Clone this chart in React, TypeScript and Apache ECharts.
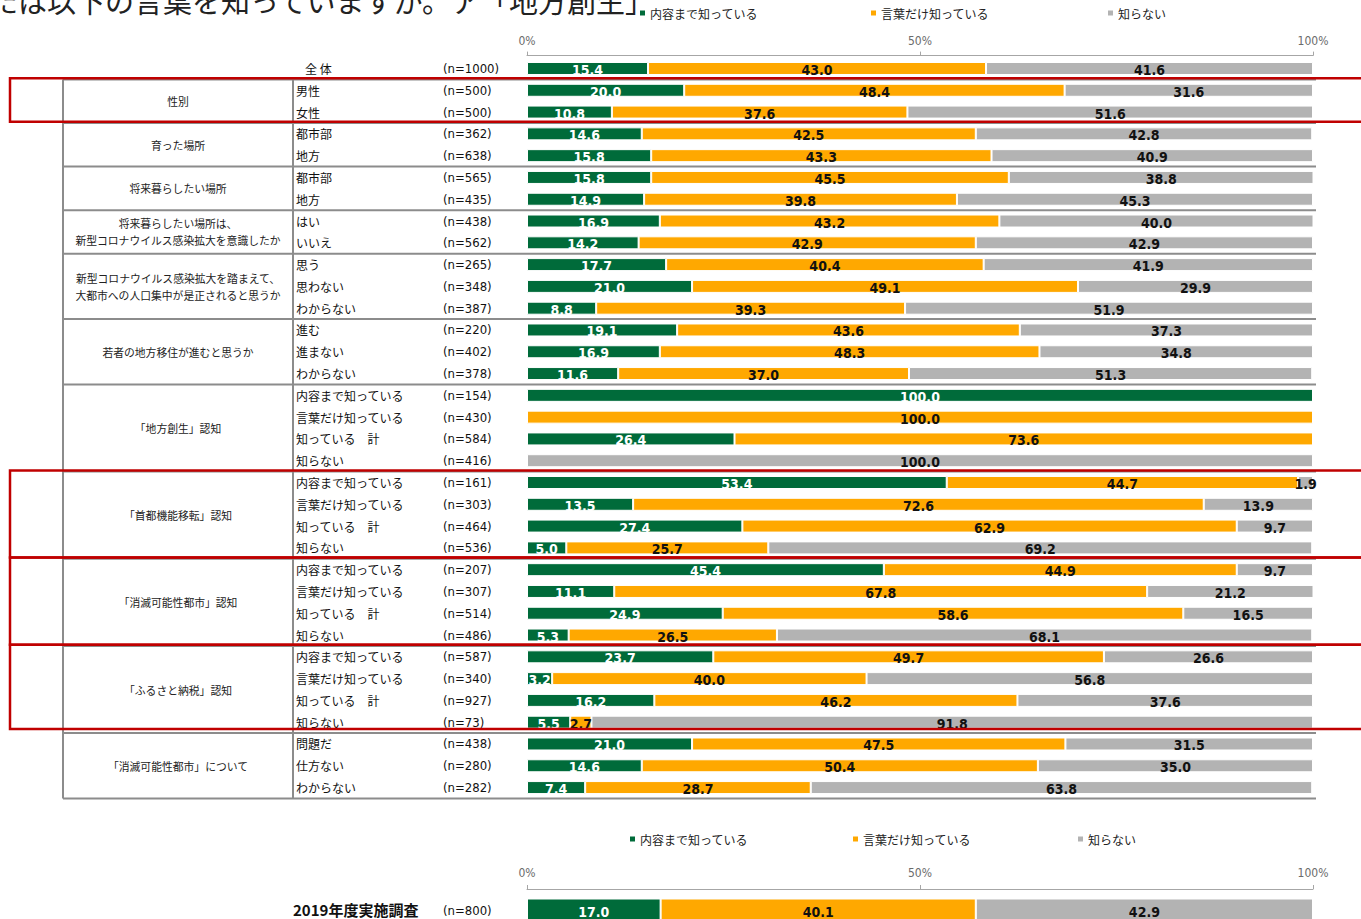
import React, { useEffect, useRef } from 'react';
import * as echarts from 'echarts';

const TITLE = 'あなたは以下の言葉を知っていますか。ア「地方創生」';
const SERIES_NAMES = ['内容まで知っている', '言葉だけ知っている', '知らない'];
const COLORS = ['#006B3A', '#FFA800', '#B3B3B3'];

const rowLabels = [
  '全 体',
  '男性', '女性',
  '都市部', '地方',
  '都市部', '地方',
  'はい', 'いいえ',
  '思う', '思わない', 'わからない',
  '進む', '進まない', 'わからない',
  '内容まで知っている', '言葉だけ知っている', '知っている　計', '知らない',
  '内容まで知っている', '言葉だけ知っている', '知っている　計', '知らない',
  '内容まで知っている', '言葉だけ知っている', '知っている　計', '知らない',
  '内容まで知っている', '言葉だけ知っている', '知っている　計', '知らない',
  '問題だ', '仕方ない', 'わからない',
];
const nLabels = [
  '(n=1000)',
  '(n=500)', '(n=500)',
  '(n=362)', '(n=638)',
  '(n=565)', '(n=435)',
  '(n=438)', '(n=562)',
  '(n=265)', '(n=348)', '(n=387)',
  '(n=220)', '(n=402)', '(n=378)',
  '(n=154)', '(n=430)', '(n=584)', '(n=416)',
  '(n=161)', '(n=303)', '(n=464)', '(n=536)',
  '(n=207)', '(n=307)', '(n=514)', '(n=486)',
  '(n=587)', '(n=340)', '(n=927)', '(n=73)',
  '(n=438)', '(n=280)', '(n=282)',
];
const groupLabels = [
  '性別', '育った場所', '将来暮らしたい場所',
  '将来暮らしたい場所は、\n新型コロナウイルス感染拡大を意識したか',
  '新型コロナウイルス感染拡大を踏まえて、\n大都市への人口集中が是正されると思うか',
  '若者の地方移住が進むと思うか', '「地方創生」認知', '「首都機能移転」認知',
  '「消滅可能性都市」認知', '「ふるさと納税」認知', '「消滅可能性都市」について',
];
const groupSizes = [2, 2, 2, 2, 3, 3, 4, 4, 4, 4, 3];
const highlightedGroups = [0, 7, 8, 9];

const knowContent = [
  15.4, 20.0, 10.8, 14.6, 15.8, 15.8, 14.9, 16.9, 14.2, 17.7, 21.0, 8.8, 19.1, 16.9, 11.6,
  100.0, 0, 26.4, 0, 53.4, 13.5, 27.4, 5.0, 45.4, 11.1, 24.9, 5.3, 23.7, 3.2, 16.2, 5.5,
  21.0, 14.6, 7.4,
];
const knowWord = [
  43.0, 48.4, 37.6, 42.5, 43.3, 45.5, 39.8, 43.2, 42.9, 40.4, 49.1, 39.3, 43.6, 48.3, 37.0,
  0, 100.0, 73.6, 0, 44.7, 72.6, 62.9, 25.7, 44.9, 67.8, 58.6, 26.5, 49.7, 40.0, 46.2, 2.7,
  47.5, 50.4, 28.7,
];
const notKnow = [
  41.6, 31.6, 51.6, 42.8, 40.9, 38.8, 45.3, 40.0, 42.9, 41.9, 29.9, 51.9, 37.3, 34.8, 51.3,
  0, 0, 0, 100.0, 1.9, 13.9, 9.7, 69.2, 9.7, 21.2, 16.5, 68.1, 26.6, 56.8, 37.6, 91.8,
  31.5, 35.0, 63.8,
];

const prevLabels = ['2019年度実施調査'];
const prevN = ['(n=800)'];
const prevKnowContent = [17.0];
const prevKnowWord = [40.1];
const prevNotKnow = [42.9];

const JP = '"Noto Sans CJK JP", "Noto Sans", sans-serif';
const NUM = '"DejaVu Sans Condensed", "Liberation Sans Narrow", "Liberation Sans", sans-serif';

export default function App() {
  const ref = useRef<HTMLDivElement>(null);
  useEffect(() => {
    if (!ref.current) return;
    const chart = echarts.init(ref.current, undefined, { renderer: 'svg' });

    const gridLeft = 527;
    const gridWidth = 786;
    const gridTop = 57.6;
    const band = 21.79;
    const rows = rowLabels.length;
    const y = (i: number) => gridTop + i * band;

    const graphics: any[] = [];
    graphics.push({
      type: 'text', x: 654, y: 0, z: 10,
      style: { text: TITLE, fontSize: 29, fontFamily: JP, fill: '#222', align: 'right', verticalAlign: 'middle' },
    });
    // table structure
    const lineStyle = { stroke: '#8c8c8c', lineWidth: 2 };
    let start = 1;
    const bounds: number[] = [1];
    groupSizes.forEach((s) => { start += s; bounds.push(start); });
    graphics.push({ type: 'line', z: 5, shape: { x1: 63, y1: y(1), x2: 63, y2: y(rows) }, style: lineStyle });
    graphics.push({ type: 'line', z: 5, shape: { x1: 293, y1: y(1), x2: 293, y2: y(rows) }, style: lineStyle });
    bounds.forEach((b) => {
      graphics.push({ type: 'line', z: 5, shape: { x1: 63, y1: y(b), x2: 1316, y2: y(b) }, style: lineStyle });
    });
    groupLabels.forEach((g, k) => {
      const c = (y(bounds[k]) + y(bounds[k + 1])) / 2;
      graphics.push({
        type: 'text', x: 178, y: c, z: 10,
        style: { text: g, fontSize: 10.8, lineHeight: 17, fontFamily: JP, fill: '#222', align: 'center', verticalAlign: 'middle' },
      });
    });
    highlightedGroups.forEach((k) => {
      const top = y(bounds[k]) - 1.2;
      const bottom = y(bounds[k + 1]) - (k === 9 ? 4 : 1.2);
      graphics.push({
        type: 'rect', z: 20,
        shape: { x: 10, y: top, width: 1400, height: bottom - top },
        style: { fill: 'none', stroke: '#C00000', lineWidth: 2.5 },
      });
    });

    const labelFor = (color: string, dy: number) => ({
      show: true,
      position: 'inside',
      offset: [0, dy],
      color,
      fontSize: 14,
      fontWeight: 'bold',
      fontFamily: NUM,
      formatter: (p: any) => (p.value === 0 ? '' : Number(p.value).toFixed(1)),
    });

    const mkSeries = (data: number[][], xi: number, yi: number, stack: string, bw: number, dy: number) =>
      data.map((d, k) => ({
        name: SERIES_NAMES[k],
        type: 'bar',
        stack,
        xAxisIndex: xi,
        yAxisIndex: yi,
        barWidth: bw,
        data: d,
        itemStyle: { color: COLORS[k], borderColor: '#fff', borderWidth: 1 },
        label: labelFor(k === 0 ? '#fff' : '#111', dy),
        emphasis: { disabled: true },
      }));

    const legendAt = (left: number, top: number, name: string) => ({
      left, top,
      data: [name],
      icon: 'rect',
      itemWidth: 7,
      itemHeight: 7,
      itemGap: 4,
      textStyle: { fontSize: 12, fontFamily: JP, color: '#222', padding: [0, 0, 0, -1] },
      selectedMode: false,
    });

    const xAxisBase = (gi: number, off: number, margin: number) => ({
      type: 'value',
      gridIndex: gi,
      position: 'top',
      offset: off,
      min: 0,
      max: 100,
      interval: 50,
      axisLine: { show: true, lineStyle: { color: '#a6a6a6' } },
      axisTick: { show: true, length: 4, lineStyle: { color: '#a6a6a6' } },
      splitLine: { show: false },
      axisLabel: { formatter: '{value}%', color: '#6b6b6b', fontSize: 12, fontFamily: NUM, margin },
    });

    chart.setOption({
      animation: false,
      legend: [
        legendAt(633, 2, SERIES_NAMES[0]),
        legendAt(864, 2, SERIES_NAMES[1]),
        legendAt(1101, 2, SERIES_NAMES[2]),
        legendAt(623, 828, SERIES_NAMES[0]),
        legendAt(846, 828, SERIES_NAMES[1]),
        legendAt(1071, 828, SERIES_NAMES[2]),
      ],
      grid: [
        { left: gridLeft, width: gridWidth, top: gridTop, height: band * rows, outerBoundsMode: 'none', containLabel: false },
        { left: gridLeft, width: gridWidth, top: 889, height: 46, outerBoundsMode: 'none', containLabel: false },
      ],
      xAxis: [xAxisBase(0, 2, 9), xAxisBase(1, 0, 10)],
      yAxis: [
        {
          type: 'category', gridIndex: 0, inverse: true, position: 'left',
          data: rowLabels.map((_, i) => String(i)),
          axisLine: { show: false }, axisTick: { show: false },
          axisLabel: {
            margin: 231, align: 'left', fontSize: 12, fontFamily: JP, color: '#111',
            formatter: (_v: string, i: number) => (i === 0 ? '{first|' + rowLabels[i] + '}' : rowLabels[i]),
            rich: { first: { padding: [0, 0, 0, 9], fontSize: 12, fontFamily: JP, color: '#111' } },
          },
        },
        {
          type: 'category', gridIndex: 0, inverse: true, position: 'left', offset: 0,
          data: nLabels.map((_, i) => 'n' + i),
          axisLine: { show: false }, axisTick: { show: false },
          axisLabel: {
            margin: 84, align: 'left', fontSize: 13, fontFamily: NUM, color: '#111',
            formatter: (_v: string, i: number) => nLabels[i],
          },
        },
        {
          type: 'category', gridIndex: 1, inverse: true, position: 'left',
          data: prevLabels,
          axisLine: { show: false }, axisTick: { show: false },
          axisLabel: {
            margin: 234, align: 'left', color: '#111',
            formatter: (v: string) => '{b|' + v + '}',
            rich: { b: { fontSize: 15, fontWeight: 'bold', fontFamily: JP, color: '#111', padding: [0, 0, 6, 0] } },
          },
        },
        {
          type: 'category', gridIndex: 1, inverse: true, position: 'left', offset: 0,
          data: prevN,
          axisLine: { show: false }, axisTick: { show: false },
          axisLabel: {
            margin: 84, align: 'left', color: '#111',
            formatter: (v: string) => '{n|' + v + '}',
            rich: { n: { fontSize: 13, fontFamily: NUM, color: '#111', padding: [0, 0, 4, 0] } },
          },
        },
      ],
      series: [
        ...mkSeries([knowContent, knowWord, notKnow], 0, 0, 'main', 13, 1.5),
        ...mkSeries([prevKnowContent, prevKnowWord, prevNotKnow], 1, 2, 'prev', 27, 0),
      ],
      graphic: graphics,
    });
    return () => chart.dispose();
  }, []);
  return <div ref={ref} style={{ position: 'absolute', left: 0, top: 0, width: 1361, height: 919 }} />;
}
